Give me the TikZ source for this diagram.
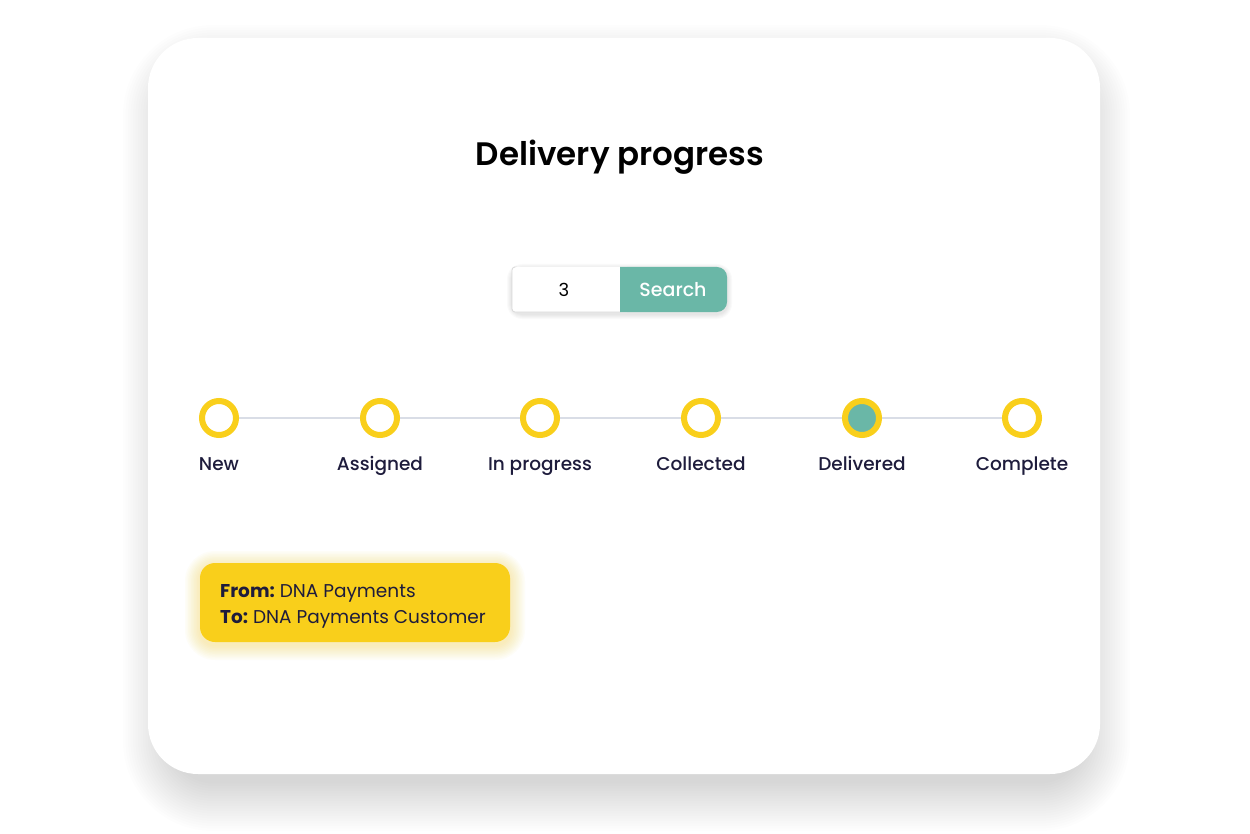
\documentclass[tikz,border=0pt]{standalone}
\usepackage{fontspec}
\setmainfont{Poppins}
\newfontfamily\poppinsmed{Poppins Medium}
\newfontfamily\poppinssemi{Poppins SemiBold}
\definecolor{ringyel}{HTML}{F9CF1B}
\definecolor{lineg}{HTML}{D9DDE6}
\definecolor{teal}{HTML}{6AB7A7}
\definecolor{navy}{HTML}{1E1C3C}
\tikzset{
  stage/.style={circle, minimum size=34pt, inner sep=0pt, draw=ringyel, line width=6pt, fill=white},
  stagelbl/.style={anchor=base, text=navy, font=\poppinsmed\fontsize{18.5}{22}\selectfont, inner sep=0pt},
  addrline/.style={anchor=base west, text=navy, font=\fontsize{18.5}{22}\selectfont, inner sep=0pt}
}
\frenchspacing
\begin{document}
\begin{tikzpicture}[x=1pt, y=-1pt]
\useasboundingbox[fill=white] (0,0) rectangle (1250,834);
% card and its shadow
\foreach \i in {1,...,20}
  \fill[black, opacity=0.007, rounded corners=40+2.5*\i] (148+25-2.5*\i,38+22+15-2.5*\i) rectangle (1100-20+2.5*\i,774+22-15+2.5*\i);
\fill[white, rounded corners=50] (148,38) rectangle (1100,774);
\node[anchor=base, font=\poppinssemi\fontsize{32.5}{38}\selectfont, text=black] (title) at (620,166) {Delivery progress};
% search field
\foreach \i in {1,...,5}
  \fill[black, opacity=0.02, rounded corners=10+\i] (512-\i,267+2-\i) rectangle (727+\i,312+2+\i);
\fill[white, rounded corners=3] (512,267) rectangle (630,312);
\draw[black!15, line width=0.8pt, rounded corners=3] (514,267) -- (512,267) -- (512,312) -- (620,312);
\fill[teal] (620,267) [rounded corners=10] -- (727,267) -- (727,312) [sharp corners] -- (620,312) -- cycle;
\node[anchor=base, font=\fontsize{18}{22}\selectfont, text=black] (inp) at (564,297) {3};
\node[anchor=base, font=\poppinsmed\fontsize{19}{22}\selectfont, text=white] (btn) at (673,297) {Search};
% stages
\node[stage] (st0) at (219,418){};
\node[stage] (st1) at (380,418){};
\node[stage] (st2) at (540,418){};
\node[stage] (st3) at (701,418){};
\node[stage, fill=teal] (st4) at (862,418){};
\node[stage] (st5) at (1022,418){};
\draw[lineg, line width=2.5pt] (st0) -- (st1);
\draw[lineg, line width=2.5pt] (st1) -- (st2);
\draw[lineg, line width=2.5pt] (st2) -- (st3);
\draw[lineg, line width=2.5pt] (st3) -- (st4);
\draw[lineg, line width=2.5pt] (st4) -- (st5);
\node[stagelbl] (lb0) at (219,470) {New};
\node[stagelbl] (lb1) at (380,470) {Assigned};
\node[stagelbl] (lb2) at (540,470) {In progress};
\node[stagelbl] (lb3) at (701,470) {Collected};
\node[stagelbl] (lb4) at (862,470) {Delivered};
\node[stagelbl] (lb5) at (1022,470) {Complete};
% from / to box
\foreach \i in {1,...,10}
  \fill[ringyel, opacity=0.03, rounded corners=15+1.5*\i] (200-1.5*\i,563+3-1.5*\i) rectangle (510+1.5*\i,642+3+1.5*\i);
\node[fill=ringyel, rounded corners=15, minimum width=310pt, minimum height=79pt] (addr) at (355,602.5) {};
\node[addrline] (from) at (220,597) {{\bfseries From:} DNA Payments};
\node[addrline] (to) at (220,623) {{\bfseries To:} DNA Payments Customer};
\end{tikzpicture}
\end{document}
